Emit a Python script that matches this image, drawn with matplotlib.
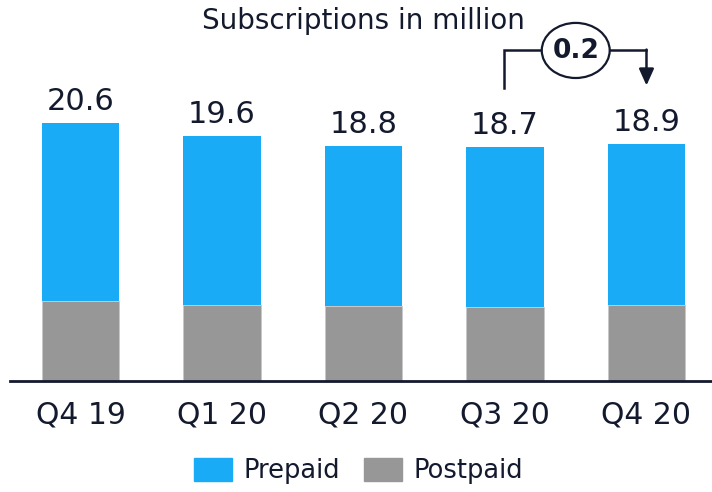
import matplotlib.pyplot as plt
from matplotlib.patches import Ellipse, Patch
import numpy as np

quarters = ['Q4 19', 'Q1 20', 'Q2 20', 'Q3 20', 'Q4 20']
totals = [20.6, 19.6, 18.8, 18.7, 18.9]
postpaid = [6.4, 6.1, 6.0, 5.9, 6.1]
prepaid = [t - p for t, p in zip(totals, postpaid)]
delta_label = '0.2'

navy = '#141a2e'
blue = '#1aabf7'
grey = '#979797'

fig = plt.figure(figsize=(7.12, 4.92), dpi=100)
ax = fig.add_axes([10 / 712, 111 / 492, 702 / 712, 381 / 492])
x = np.arange(len(quarters))
w = 0.55

ax.bar(x, postpaid, w, color=grey, edgecolor='#c8c8c8', linewidth=0.6)
ax.bar(x, prepaid, w, bottom=postpaid, color=blue)

for xi, t in zip(x, totals):
    ax.text(xi, t + 0.56, f'{t:.1f}', ha='center', va='bottom', fontsize=22, color=navy)

ax.set_xlim(-0.498, 4.463)
ax.set_ylim(0, 30.43)
ax.set_xticks(x)
ax.set_xticklabels(quarters, fontsize=21.5, color=navy)
ax.tick_params(axis='x', length=0, pad=14)
ax.set_yticks([])
for s in ['top', 'left', 'right']:
    ax.spines[s].set_visible(False)
ax.spines['bottom'].set_color(navy)
ax.spines['bottom'].set_linewidth(2)
ax.set_facecolor('none')

fig.text(0.511, 0.957, 'Subscriptions in million', ha='center', va='center', fontsize=20, color=navy)

# bracket showing change Q3 20 -> Q4 20
y_top = 26.4
ax.plot([x[3] - 0.005, x[3] - 0.005, x[4]], [23.4, y_top, y_top], color=navy, lw=1.8, zorder=3,
        solid_joinstyle='miter')
ax.annotate('', xy=(x[4], 23.6), xytext=(x[4], y_top + 0.07),
            arrowprops=dict(arrowstyle='-|>,head_length=1.0,head_width=0.45', color=navy, lw=1.8,
                            shrinkA=0, shrinkB=0))
mid = (x[3] + x[4]) / 2
ax.add_patch(Ellipse((mid, y_top), 0.48, 4.4, facecolor='white', edgecolor=navy, lw=1.6, zorder=4))
ax.text(mid, y_top - 0.05, delta_label, ha='center', va='center', fontsize=19, fontweight='bold',
        color=navy, zorder=5)

handles = [Patch(color=blue, label='Prepaid'), Patch(color=grey, label='Postpaid')]
fig.legend(handles=handles, loc='center', bbox_to_anchor=(0.504, 0.043), ncol=2, frameon=False,
           fontsize=18.5, handlelength=1.45, handleheight=1.05, handletextpad=0.47, columnspacing=0.93,
           labelcolor=navy)

fig.savefig('out.png', dpi=100)
